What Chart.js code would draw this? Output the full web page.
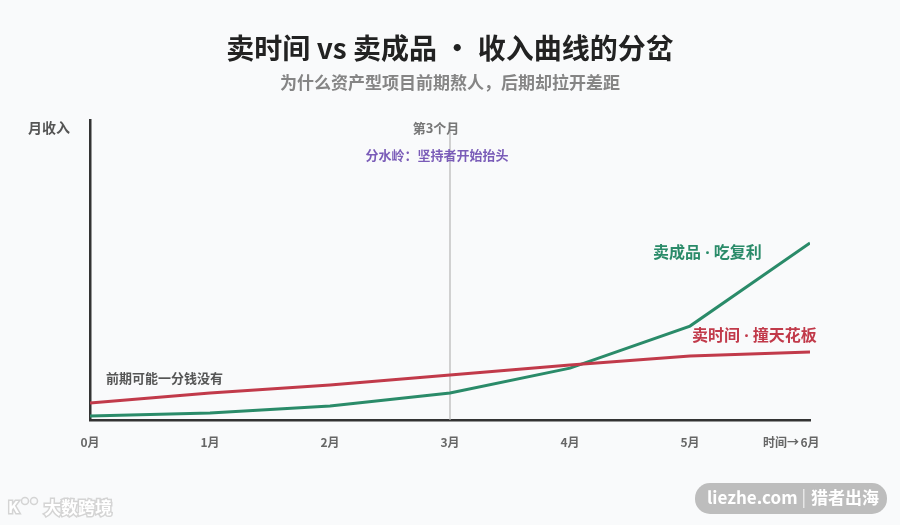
<!DOCTYPE html>
<html lang="zh">
<head>
<meta charset="UTF-8">
<title>卖时间 vs 卖成品</title>
<script src="https://cdn.jsdelivr.net/npm/chart.js"></script>
<style>
    html, body {
        margin: 0;
        padding: 0;
        background: #f9fafb;
    }
    #wrap {
        width: 900px;
        height: 525px;
        position: relative;
    }
</style>
</head>
<body>
<div id="wrap"><canvas id="c" width="900" height="525"></canvas></div>
<script>
    // data (y = relative monthly income, 0..100)
    const months = [0, 1, 2, 3, 4, 5, 6];
    const monthLabels = ['0月', '1月', '2月', '3月', '4月', '5月', '6月'];
    const sellTime = [5.7, 9, 11.7, 15, 18.3, 21.3, 22.7];
    const sellProduct = [1.3, 2.3, 4.7, 9, 17.3, 31.3, 59];

    const FONT = '"Noto Sans CJK SC", "Noto Sans", sans-serif';
    // latin first so the middle dot stays narrow
    const FONT_DOT = '"Noto Sans", "Noto Sans CJK SC", sans-serif';
    const GREEN = '#2a8b69';
    const RED = '#c13a4a';

    function toPoints(vals) {
        return months.map((m, i) => ({ x: m, y: vals[i] }));
    }

    function txt(ctx, s, x, y, size, color, align, family) {
        ctx.font = 'bold ' + size + 'px ' + (family || FONT);
        ctx.fillStyle = color;
        ctx.textAlign = align || 'center';
        ctx.textBaseline = 'middle';
        ctx.fillText(s, x, y);
    }

    const decorations = {
        id: 'decorations',
        beforeDatasetsDraw(chart) {
            const { ctx, scales: { x, y } } = chart;
            // watershed line at month 3
            const px = x.getPixelForValue(3);
            ctx.save();
            ctx.strokeStyle = '#b5b5b5';
            ctx.lineWidth = 1.2;
            ctx.beginPath();
            ctx.moveTo(px, y.getPixelForValue(100) + 2);
            ctx.lineTo(px, y.getPixelForValue(0));
            ctx.stroke();
            ctx.restore();
        },
        afterDraw(chart) {
            const { ctx, scales: { x, y } } = chart;
            ctx.save();
            txt(ctx, '卖时间 vs 卖成品 · 收入曲线的分岔', 450, 48, 28, '#222');
            txt(ctx, '为什么资产型项目前期熬人，后期却拉开差距', 450, 83, 17, '#858585');
            txt(ctx, '月收入', 49, 128, 14, '#555');
            txt(ctx, '第3个月', 436, 128, 13, '#777');
            txt(ctx, '分水岭：坚持者开始抬头', 437, 155, 13, '#7a5cb8');
            txt(ctx, '前期可能一分钱没有', 106, 378, 13, '#555', 'left');
            txt(ctx, '卖成品 · 吃复利', 653, 253, 16, GREEN, 'left', FONT_DOT);
            txt(ctx, '卖时间 · 撞天花板', 692, 336, 16, RED, 'left', FONT_DOT);
            // prefix of last tick label
            txt(ctx, '时间→', x.getPixelForValue(6) - 11, 442, 12, '#666', 'right');

            // watermarks
            ctx.fillStyle = '#bdbdbd';
            ctx.beginPath();
            ctx.roundRect(695, 483, 192, 31, 15);
            ctx.fill();
            txt(ctx, 'liezhe.com', 707, 498, 17, '#fff', 'left');
            ctx.fillStyle = '#e6e6e6';
            ctx.fillRect(803, 489, 1.5, 19);
            txt(ctx, '猎者出海', 811, 498, 17, '#fff', 'left');

            ctx.font = 'bold 17px ' + FONT;
            ctx.textAlign = 'left';
            ctx.lineWidth = 3;
            ctx.strokeStyle = '#d4d4d4';
            ctx.strokeText('大数跨境', 44, 508);
            ctx.fillStyle = '#ffffff';
            ctx.fillText('大数跨境', 44, 508);
            ctx.font = 'bold 16px ' + FONT;
            ctx.strokeText('K', 8, 507);
            ctx.fillText('K', 8, 507);
            ctx.lineWidth = 1.5;
            ctx.beginPath();
            ctx.arc(25, 501, 3.5, 0, Math.PI * 2);
            ctx.stroke();
            ctx.beginPath();
            ctx.arc(34, 501, 3.5, 0, Math.PI * 2);
            ctx.stroke();
            ctx.restore();
        }
    };

    new Chart(document.getElementById('c'), {
        type: 'line',
        data: {
            datasets: [
                {
                    label: '卖时间·撞天花板',
                    data: toPoints(sellTime),
                    borderColor: RED,
                    borderWidth: 3,
                    pointRadius: 0,
                    tension: 0.1
                },
                {
                    label: '卖成品·吃复利',
                    data: toPoints(sellProduct),
                    borderColor: GREEN,
                    borderWidth: 3,
                    pointRadius: 0,
                    tension: 0
                }
            ]
        },
        options: {
            responsive: false,
            animation: false,
            layout: { padding: { left: 90, right: 90, top: 120, bottom: 65 } },
            plugins: {
                legend: { display: false },
                tooltip: { enabled: false }
            },
            scales: {
                x: {
                    type: 'linear',
                    min: 0,
                    max: 6,
                    afterFit(s) { s.height = 40; },
                    grid: { display: false, drawTicks: false },
                    border: { display: true, color: '#333', width: 2.5 },
                    ticks: {
                        stepSize: 1,
                        padding: 15,
                        color: '#666',
                        font: { family: FONT, size: 12, weight: 'bold' },
                        callback: v => monthLabels[v]
                    }
                },
                y: {
                    min: 0,
                    max: 100,
                    afterFit(s) { s.width = 0; },
                    grid: { display: false, drawTicks: false },
                    border: { display: true, color: '#333', width: 2.5 },
                    ticks: { display: false }
                }
            }
        },
        plugins: [decorations]
    });
</script>
</body>
</html>
